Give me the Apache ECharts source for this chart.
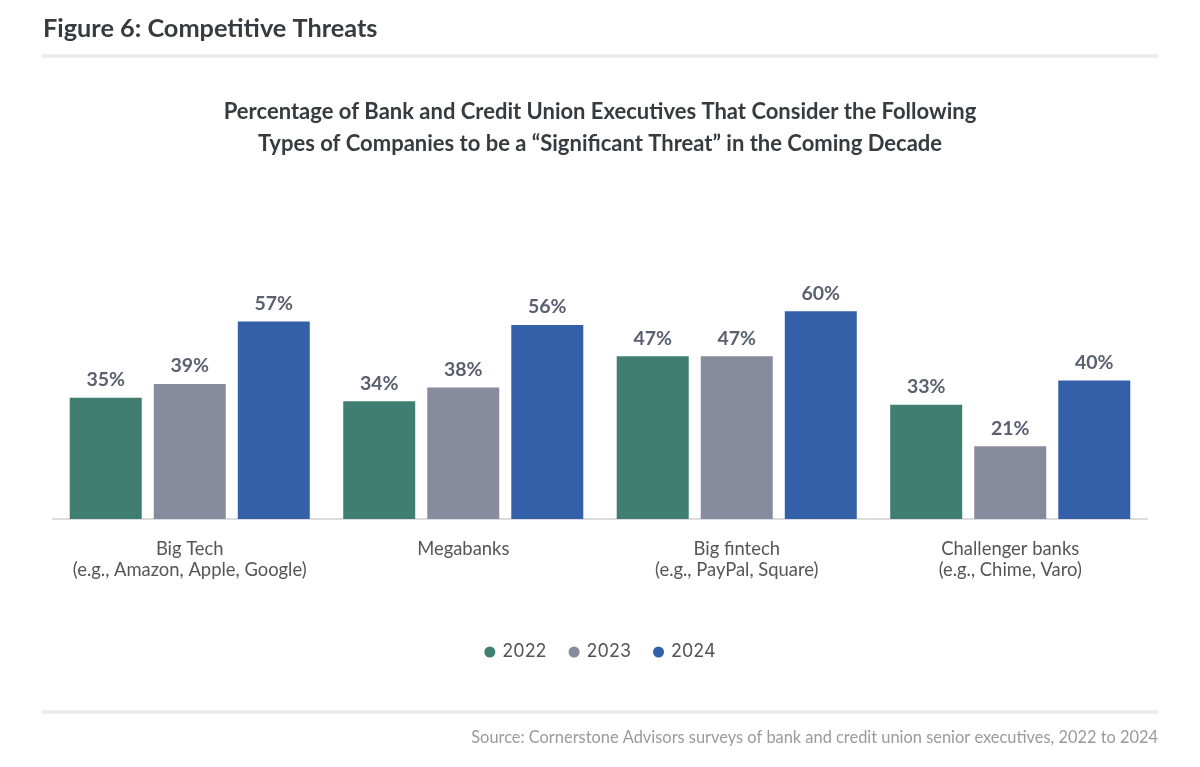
<!DOCTYPE html>
<html>
<head>
<meta charset="utf-8">
<script src="https://cdn.jsdelivr.net/npm/echarts@6/dist/echarts.min.js"></script>
<style>
html,body{margin:0;padding:0;background:#fff;}
#chart{width:1200px;height:767px;}
</style>
</head>
<body>
<div id="chart"></div>
<script>
const categories = [
  "Big Tech\n(e.g., Amazon, Apple, Google)",
  "Megabanks",
  "Big fintech\n(e.g., PayPal, Square)",
  "Challenger banks\n(e.g., Chime, Varo)"
];
const seriesNames = ["2022", "2023", "2024"];
const values2022 = [35, 34, 47, 33];
const values2023 = [39, 38, 47, 21];
const values2024 = [57, 56, 60, 40];
const colors = ["#3f7e70", "#868b9d", "#3460aa"];

const chart = echarts.init(document.getElementById('chart'), null, {renderer: 'canvas'});

const dataSets = [values2022, values2023, values2024];
const series = dataSets.map((d, i) => ({
  name: seriesNames[i],
  type: 'bar',
  data: d,
  barWidth: 72,
  barGap: '16.7%',
  itemStyle: {color: colors[i]},
  label: {
    show: true,
    position: 'top',
    distance: 8,
    formatter: '{c}%',
    fontFamily: 'Lato',
    fontWeight: 'bold',
    fontSize: 19.5,
    color: '#5b6070'
  }
}));

chart.setOption({
  backgroundColor: '#ffffff',
  animation: false,
  color: colors,
  title: [
    {
      text: 'Figure 6: Competitive Threats',
      left: 38, top: 11,
      textStyle: {fontFamily: 'Lato', fontWeight: 'bold', fontSize: 25.3, color: '#383a3f'}
    },
    {
      text: 'Source: Cornerstone Advisors surveys of bank and credit union senior executives, 2022 to 2024',
      right: 37, top: 725,
      textStyle: {fontFamily: 'Lato', fontWeight: 'normal', fontSize: 16.4, color: '#9a9a9a'}
    }
  ],
  graphic: [
    {type: 'rect', shape: {x: 42, y: 54, width: 1116, height: 4}, style: {fill: '#ebebeb'}},
    {type: 'rect', shape: {x: 42, y: 710, width: 1116, height: 4}, style: {fill: '#ebebeb'}},
    {type: 'text', x: 600, y: 112, style: {
      text: 'Percentage of Bank and Credit Union Executives That Consider the Following',
      textAlign: 'center', textVerticalAlign: 'middle',
      font: 'bold 22px Lato', fill: '#383a3f'}},
    {type: 'text', x: 600, y: 144, style: {
      text: 'Types of Companies to be a \u201cSignificant Threat\u201d in the Coming Decade',
      textAlign: 'center', textVerticalAlign: 'middle',
      font: 'bold 22px Lato', fill: '#383a3f'}}
  ],
  legend: {
    data: seriesNames,
    top: 638,
    left: 'center',
    icon: 'circle',
    itemWidth: 11,
    itemHeight: 11,
    itemGap: 22,
    textStyle: {fontFamily: 'Inter', fontSize: 18, color: '#555555', padding: [0, 0, 0, 2]}
  },
  grid: {left: 53, right: 1200 - 1147, top: 276.6, bottom: 248, containLabel: false},
  xAxis: {
    type: 'category',
    data: categories,
    axisLine: {show: true, lineStyle: {color: '#dcdcdc', width: 2}},
    axisTick: {show: false},
    axisLabel: {
      margin: 20,
      interval: 0,
      fontFamily: 'Lato',
      fontSize: 18.4,
      lineHeight: 21,
      color: '#555555'
    }
  },
  yAxis: {
    type: 'value',
    min: 0, max: 70,
    show: false,
    splitLine: {show: false}
  },
  series: series
});
</script>
</body>
</html>
